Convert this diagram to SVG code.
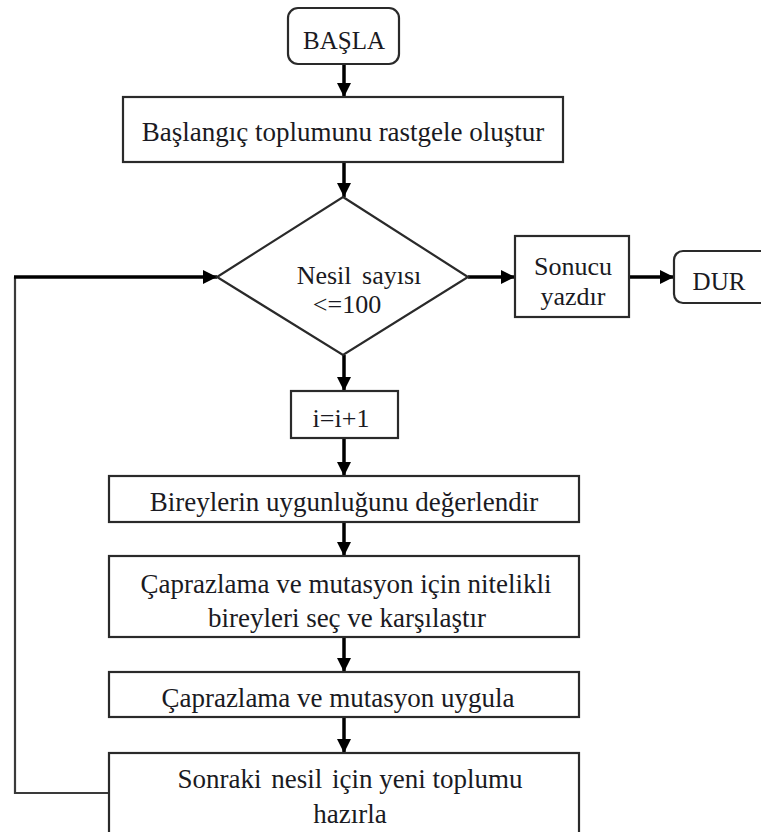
<svg xmlns="http://www.w3.org/2000/svg" width="761" height="832" viewBox="0 0 761 832">
  <style>
    .box { fill: #ffffff; stroke: #2a2a2a; stroke-width: 2.2; }
    .t { font-family: "Liberation Serif", "Times New Roman", serif; fill: #1a1a22; text-anchor: middle; }
    .s25 { font-size: 25px; }
    .s26 { font-size: 26px; }
    .s27 { font-size: 27px; }
    .flow { stroke: #000000; stroke-width: 3.5; fill: none; }
    .loop { stroke: #3a3a3a; stroke-width: 2.2; fill: none; }
  </style>
  <defs>
    <marker id="arrow" viewBox="0 0 10 10" refX="10" refY="5" markerWidth="4.2" markerHeight="4" markerUnits="strokeWidth" orient="auto">
      <path d="M0,0 L10,5 L0,10 z" fill="#000000"/>
    </marker>
  </defs>

  <rect width="761" height="832" fill="#ffffff"/>

  <!-- connectors -->
  <g id="connectors">
    <line class="flow" x1="344" y1="64" x2="344" y2="97" marker-end="url(#arrow)"/>
    <line class="flow" x1="344" y1="162" x2="344" y2="197" marker-end="url(#arrow)"/>
    <line class="flow" x1="468" y1="277" x2="515" y2="277" marker-end="url(#arrow)"/>
    <line class="flow" x1="629" y1="277" x2="674" y2="277" marker-end="url(#arrow)"/>
    <line class="flow" x1="344" y1="355" x2="344" y2="391" marker-end="url(#arrow)"/>
    <line class="flow" x1="344" y1="438" x2="344" y2="476" marker-end="url(#arrow)"/>
    <line class="flow" x1="344" y1="522" x2="344" y2="556" marker-end="url(#arrow)"/>
    <line class="flow" x1="344" y1="637" x2="344" y2="672" marker-end="url(#arrow)"/>
    <line class="flow" x1="344" y1="717" x2="344" y2="753" marker-end="url(#arrow)"/>
    <!-- feedback loop back to the decision -->
    <polyline class="loop" points="109,793 15,793 15,277"/>
    <line class="flow" x1="14" y1="277" x2="217" y2="277" marker-end="url(#arrow)"/>
  </g>

  <g id="start">
    <rect class="box" x="288" y="8" width="111" height="56" rx="10"/>
    <text class="t s25" x="344" y="49">BAŞLA</text>
  </g>

  <g id="init">
    <rect class="box" x="123" y="97" width="440" height="65"/>
    <text class="t s27" x="343" y="141">Başlangıç toplumunu rastgele oluştur</text>
  </g>

  <g id="check">
    <polygon class="box" points="343,197 468,277 343,355 217,277"/>
    <text class="t s26" x="359" y="284">Nesil <tspan dx="4">sayısı</tspan></text>
    <text class="t s26" x="347" y="313">&lt;=100</text>
  </g>

  <g id="result">
    <rect class="box" x="515" y="236" width="114" height="81"/>
    <text class="t s26" x="573" y="275">Sonucu</text>
    <text class="t s26" x="573" y="305">yazdır</text>
  </g>

  <g id="stop">
    <rect class="box" x="674" y="251" width="100" height="52" rx="9"/>
    <text class="t s25" x="719" y="290">DUR</text>
  </g>

  <g id="increment">
    <rect class="box" x="291" y="391" width="107" height="47"/>
    <text class="t s26" x="341" y="427">i=i+1</text>
  </g>

  <g id="fitness">
    <rect class="box" x="109" y="476" width="470" height="46"/>
    <text class="t s27" x="344" y="511">Bireylerin uygunluğunu değerlendir</text>
  </g>

  <g id="select">
    <rect class="box" x="109" y="556" width="470" height="81"/>
    <text class="t s27" x="346" y="593">Çaprazlama ve mutasyon için nitelikli</text>
    <text class="t s27" x="347" y="627">bireyleri seç ve karşılaştır</text>
  </g>

  <g id="apply">
    <rect class="box" x="109" y="672" width="470" height="45"/>
    <text class="t s27" x="338" y="707">Çaprazlama ve mutasyon uygula</text>
  </g>

  <g id="next">
    <rect class="box" x="109" y="753" width="470" height="100"/>
    <text class="t s27" x="350" y="788">Sonraki <tspan dx="3">nesil</tspan> <tspan dx="3">için yeni toplumu</tspan></text>
    <text class="t s27" x="350" y="823">hazırla</text>
  </g>
</svg>
